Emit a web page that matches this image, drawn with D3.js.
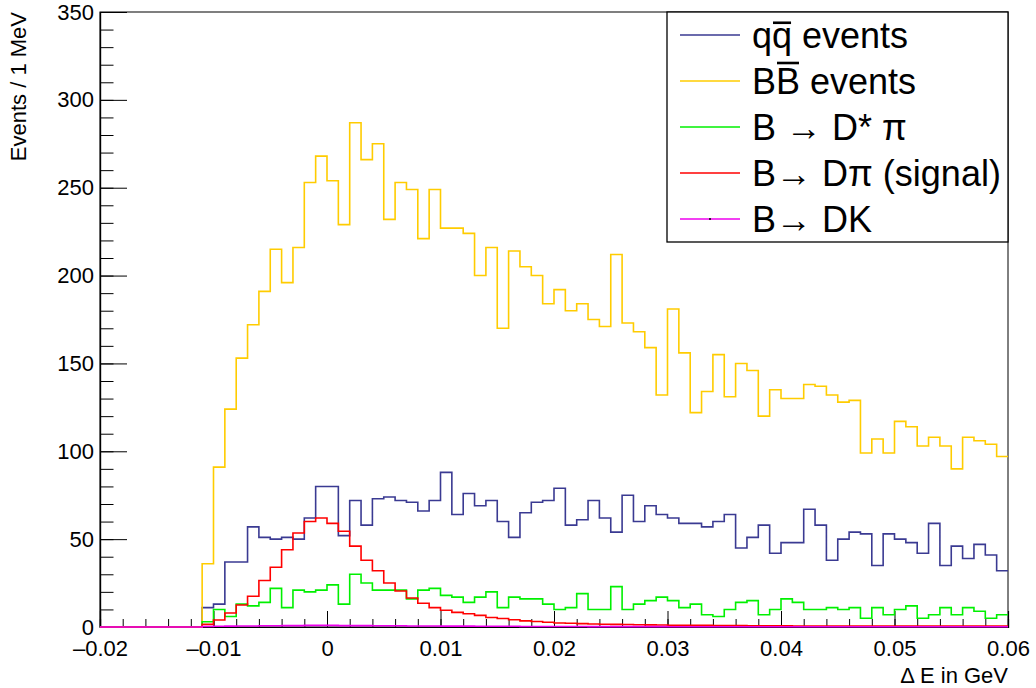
<!DOCTYPE html>
<html>
<head>
<meta charset="utf-8">
<script src="https://cdn.jsdelivr.net/npm/d3@7"></script>
<style>
  html, body { margin: 0; padding: 0; background: #fff; }
  svg { display: block; font-family: "Liberation Sans", Arial, Helvetica, sans-serif; }
</style>
</head>
<body>
<svg id="chart" width="1036" height="688"></svg>
<script>
// ---- data (Events per 1 MeV bin, 80 bins from -0.020 to 0.060 GeV) ----
const xMin = -0.02, xMax = 0.06, binWidth = 0.001;

const qqEvents = [
  0,0,0,0,0,0,0,0,0,11,
  13,37,37,57,51,50,51,50,62,80,
  80,52,72,58,73,74,72,71,66,72,
  88,64,76,69,72,60,51,65,71,72,
  79,58,61,72,62,54,75,60,69,64,
  62,59,59,57,60,64,45,51,58,42,
  48,48,67,58,38,50,54,53,35,53,
  50,48,42,59,35,46,39,47,41,32
];
const bbEvents = [
  0,0,0,0,0,0,0,0,0,36,
  91,124,153,172,191,215,196,216,253,268,
  254,229,287,266,275,232,253,249,221,249,
  227,227,224,200,216,170,214,205,200,184,
  192,180,184,175,171,212,173,168,159,132,
  181,156,122,134,155,131,150,146,120,135,
  130,130,138,137,132,128,129,99,107,99,
  117,114,103,108,103,90,108,106,104,97
];
const dstarPi = [
  0,0,0,0,0,0,0,0,0,3,
  10,6,13,12,14,22,11,21,20,21,
  24,13,30,25,21,21,21,16,21,22,
  18,17,14,17,20,11,17,16,16,13,
  10,11,19,10,10,23,10,13,15,17,
  15,11,13,7,6,10,14,15,7,10,
  16,14,10,10,11,10,11,5,11,7,
  10,12,5,7,11,7,11,9,5,7
];
const dPiSignal = [
  0,0,0,0,0,0,0,0,0,1.5,
  4,8,12.5,17.5,26.5,34,44,53.5,60,62,
  59,54.5,46,38,32,25,20.5,16.5,13.5,11,
  9.5,8.3,7.5,6.6,5.4,4.8,4.1,3.5,3.1,2.7,
  2.3,2.1,1.9,1.7,1.6,1.5,1.4,1.3,1.2,1.1,
  1.0,1.0,0.9,0.9,0.8,0.8,0.8,0.7,0.7,0.7,
  0.7,0.6,0.6,0.6,0.6,0.6,0.6,0.5,0.5,0.5,
  0.5,0.5,0.5,0.5,0.5,0.5,0.5,0.5,0.5,0.5
];
const dkEvents = [
  0,0,0,0,0,0,0,0,0,0.3,
  0.4,0.5,0.6,0.6,0.7,0.7,0.8,0.8,0.9,0.9,
  0.9,0.8,0.8,0.8,0.7,0.7,0.7,0.6,0.6,0.6,
  0.5,0.5,0.5,0.4,0.4,0.4,0.4,0.3,0.3,0.3,
  0.3,0.3,0.3,0.2,0.2,0.2,0.2,0.2,0.2,0.2,
  0.1,0.1,0.1,0.1,0.1,0.1,0.1,0.1,0.1,0.1,
  0.1,0.1,0.1,0.1,0.1,0.1,0.1,0.1,0.1,0.1,
  0.1,0.1,0.1,0.1,0.1,0.1,0.1,0.1,0.1,0.1
];

const xMajorTicks = [-0.02, -0.01, 0, 0.01, 0.02, 0.03, 0.04, 0.05, 0.06];
const yMajorTicks = [0, 50, 100, 150, 200, 250, 300, 350];

const seriesNames = ["qq", "bb", "dstar", "signal", "dk"];
const seriesColors = ["#3a3a92", "#ffcc00", "#00f000", "#ff0000", "#ee00ee"];

// ---- layout ----
const svg = d3.select("#chart");
const plot = { left: 100, right: 1008, top: 12, bottom: 627 };
const x = d3.scaleLinear().domain([xMin, xMax]).range([plot.left, plot.right]);
const y = d3.scaleLinear().domain([0, 350]).range([plot.bottom, plot.top]);

svg.append("clipPath").attr("id", "clip")
  .append("rect")
  .attr("x", plot.left).attr("y", plot.top - 1)
  .attr("width", plot.right - plot.left).attr("height", plot.bottom - plot.top + 2);

// ---- frame ----
svg.append("rect")
  .attr("x", plot.left).attr("y", plot.top)
  .attr("width", plot.right - plot.left).attr("height", plot.bottom - plot.top)
  .attr("fill", "none").attr("stroke", "#000").attr("stroke-width", 1);

// ---- axes ----
const fmtX = v => (Math.abs(v) < 1e-12 ? "0" : d3.format(".2f")(v).replace("\u2212", "\u2013"));
const xAxis = d3.axisBottom(x).tickValues(xMajorTicks).tickSize(-16).tickPadding(10).tickFormat(fmtX);
const xMinor = d3.axisBottom(x).ticks(40).tickSize(-8).tickFormat("");
const gx = svg.append("g").attr("transform", `translate(0,${plot.bottom})`).call(xAxis);
svg.append("g").attr("transform", `translate(0,${plot.bottom})`).call(xMinor);

const yAxis = d3.axisLeft(y).tickValues(yMajorTicks).tickSize(-27).tickPadding(6).tickFormat(d3.format("d"));
const yMinor = d3.axisLeft(y).ticks(35).tickSize(-13.5).tickFormat("");
svg.append("g").attr("transform", `translate(${plot.left},0)`).call(yAxis);
svg.append("g").attr("transform", `translate(${plot.left},0)`).call(yMinor);

svg.selectAll(".domain").attr("stroke", "#000").attr("stroke-width", 1.2);
svg.selectAll(".tick line").attr("stroke", "#000").attr("stroke-width", 1);
svg.selectAll(".tick text")
  .attr("font-family", "'Liberation Sans', Arial, sans-serif")
  .attr("font-size", 22).attr("fill", "#000");
gx.selectAll(".tick text").attr("dy", "0.85em");

// ---- histograms (drawn over the axes, as in the reference) ----
function histPoints(vals) {
  const pts = [];
  vals.forEach((v, i) => {
    const lo = xMin + i * binWidth, hi = xMin + (i + 1) * binWidth;
    pts.push([x(lo), y(v)]);
    pts.push([x(hi), y(v)]);
  });
  return pts;
}
const line = d3.line();
const allSeries = [qqEvents, bbEvents, dstarPi, dPiSignal, dkEvents];
const gHist = svg.append("g").attr("clip-path", "url(#clip)");
allSeries.forEach((vals, k) => {
  gHist.append("path")
    .attr("d", line(histPoints(vals)))
    .attr("fill", "none")
    .attr("stroke", seriesColors[k])
    .attr("stroke-width", 1.6)
    .attr("stroke-linejoin", "miter");
});

// axis titles
svg.append("text")
  .attr("transform", `translate(26,${plot.top}) rotate(-90)`)
  .attr("text-anchor", "end")
  .attr("font-size", 22)
  .text("Events / 1 MeV");
svg.append("text")
  .attr("x", plot.right).attr("y", 683)
  .attr("text-anchor", "end")
  .attr("font-size", 22)
  .text("\u0394 E in GeV");

// ---- legend ----
const legendBox = { x: 667, y: 12, w: 341, h: 230 };
const lg = svg.append("g");
lg.append("rect")
  .attr("x", legendBox.x).attr("y", legendBox.y)
  .attr("width", legendBox.w).attr("height", legendBox.h)
  .attr("fill", "#fff").attr("stroke", "#000").attr("stroke-width", 1.3);

const rowH = legendBox.h / 5;
const fs = 36;
function overline(textSel, charIndex, rise) {
  const node = textSel.node();
  const ext = node.getExtentOfChar(charIndex);
  const base = +textSel.attr("y");
  lg.append("line")
    .attr("x1", ext.x + 1).attr("x2", ext.x + ext.width - 1)
    .attr("y1", base - rise).attr("y2", base - rise)
    .attr("stroke", "#000").attr("stroke-width", 2.6);
}
seriesNames.forEach((name, k) => {
  const cy = legendBox.y + rowH * (k + 0.5);
  lg.append("line")
    .attr("x1", legendBox.x + 13).attr("x2", legendBox.x + 73)
    .attr("y1", cy).attr("y2", cy)
    .attr("stroke", seriesColors[k]).attr("stroke-width", 1.4);
  const t = lg.append("text")
    .attr("x", legendBox.x + 85).attr("y", cy + fs * 0.36)
    .attr("font-size", fs).attr("fill", "#000");
  if (name === "qq") {
    t.text("qq events");
    overline(t, 1, fs * 0.7);
  } else if (name === "bb") {
    t.text("BB events");
    overline(t, 1, fs * 0.86);
  } else if (name === "dstar") {
    t.text("B \u2192 D* \u03C0");
  } else if (name === "signal") {
    t.text("B\u2192 D\u03C0 (signal)");
  } else {
    t.text("B\u2192 DK");
    lg.append("circle").attr("cx", legendBox.x + 43).attr("cy", cy).attr("r", 1).attr("fill", "#000");
  }
});
</script>
</body>
</html>
